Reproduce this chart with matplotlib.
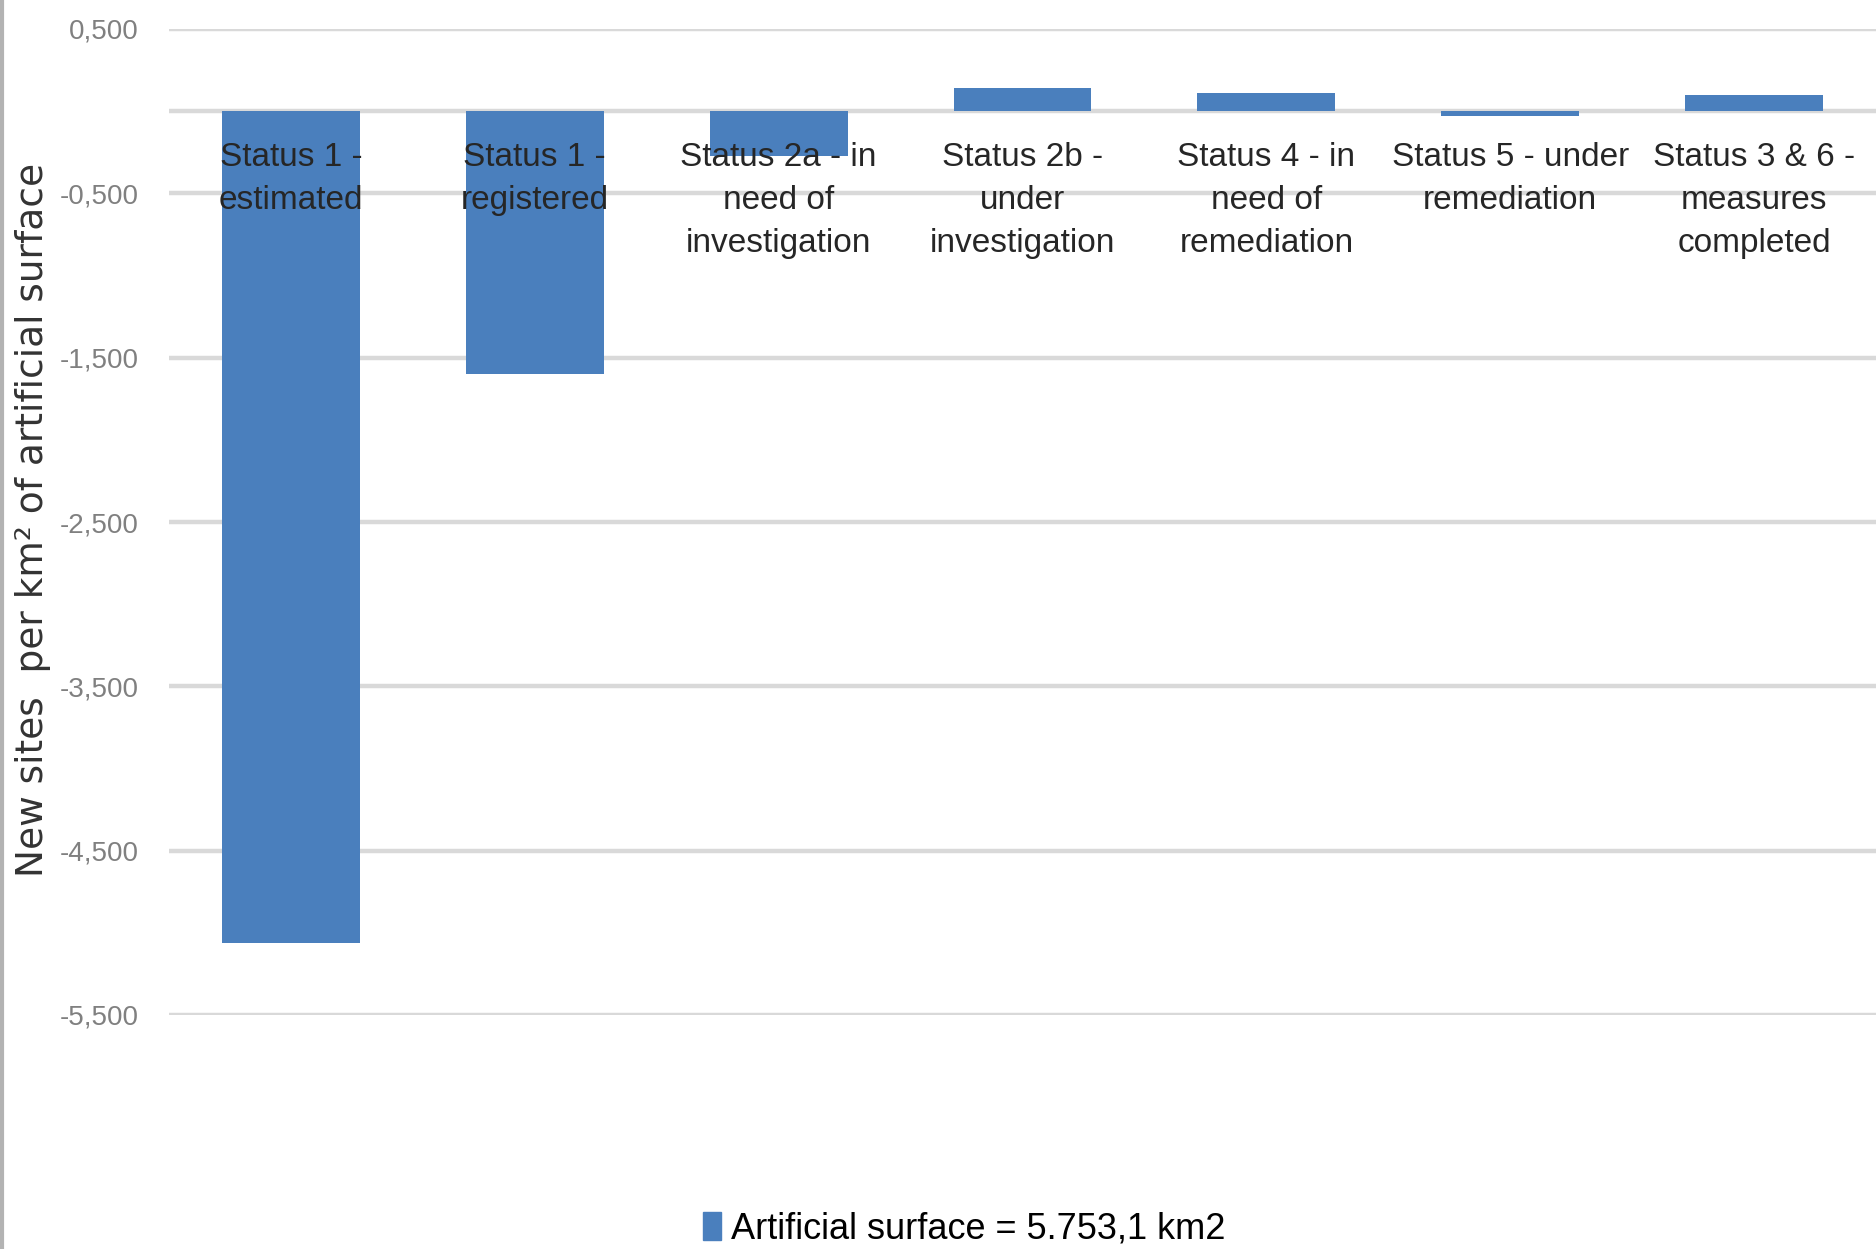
import matplotlib
matplotlib.use("Agg")
import matplotlib.pyplot as plt
from matplotlib.lines import Line2D
from matplotlib.patches import Rectangle

# Contaminated-site status categories and change in sites per km² of artificial surface
categories = [
    "Status 1 -\nestimated",
    "Status 1 -\nregistered",
    "Status 2a - in\nneed of\ninvestigation",
    "Status 2b -\nunder\ninvestigation",
    "Status 4 - in\nneed of\nremediation",
    "Status 5 - under\nremediation",
    "Status 3 & 6 -\nmeasures\ncompleted",
]
values = [-5.06, -1.60, -0.27, 0.14, 0.11, -0.03, 0.10]
tick_values = [0.5, -0.5, -1.5, -2.5, -3.5, -4.5, -5.5]
tick_labels = ["0,500", "-0,500", "-1,500", "-2,500", "-3,500", "-4,500", "-5,500"]
series_name = "Artificial surface = 5.753,1 km2"

plt.rcParams["font.family"] = ["Liberation Sans", "DejaVu Sans"]

BLUE = "#4a7fbd"
GRID = "#d9d9d9"

fig = plt.figure(figsize=(18.76, 12.49), dpi=100)
ax = fig.add_axes([169 / 1876, 1 - 1015 / 1249, 1 - 169 / 1876, (1015 - 29) / 1249])

x = list(range(len(categories)))
ax.bar(x, values, width=0.565, color=BLUE, zorder=3)

ax.set_xlim(-0.5, len(categories) - 0.5)
ax.set_ylim(-5.5, 0.5)
ax.set_yticks(tick_values)
ax.set_yticklabels(tick_labels, color="#808080", fontsize=20)
ax.tick_params(axis="y", length=0, pad=22)
ax.set_xticks([])

# horizontal gridlines, plus the zero baseline
for t in tick_values + [0.0]:
    ax.axhline(t, color=GRID, lw=3.2, zorder=1)

for s in ax.spines.values():
    s.set_visible(False)

# category labels sit just below the zero line, over the bars
for xi, lab in zip(x, categories):
    ax.text(xi, -0.19, lab, ha="center", va="top", fontsize=24,
            color="#262626", linespacing=1.5, zorder=5)

fig.text(33 / 1876, 1 - 520 / 1249, "New sites  per km² of artificial surface",
         rotation=90, ha="center", va="center", fontsize=27, color="#333333",
         family="DejaVu Sans")

# figure border on the left
fig.add_artist(Line2D([2 / 1876, 2 / 1876], [0, 1], color="#b3b3b3", lw=3,
                      transform=fig.transFigure))

# legend
handle = Rectangle((0, 0), 1, 1, color=BLUE)
fig.legend([handle], [series_name], loc="center", bbox_to_anchor=(0.514, 1 - 1229 / 1249),
           frameon=False, fontsize=26, handlelength=0.5, handleheight=0.8,
           handletextpad=0.3)

fig.savefig("out.png", dpi=100, facecolor="white")
